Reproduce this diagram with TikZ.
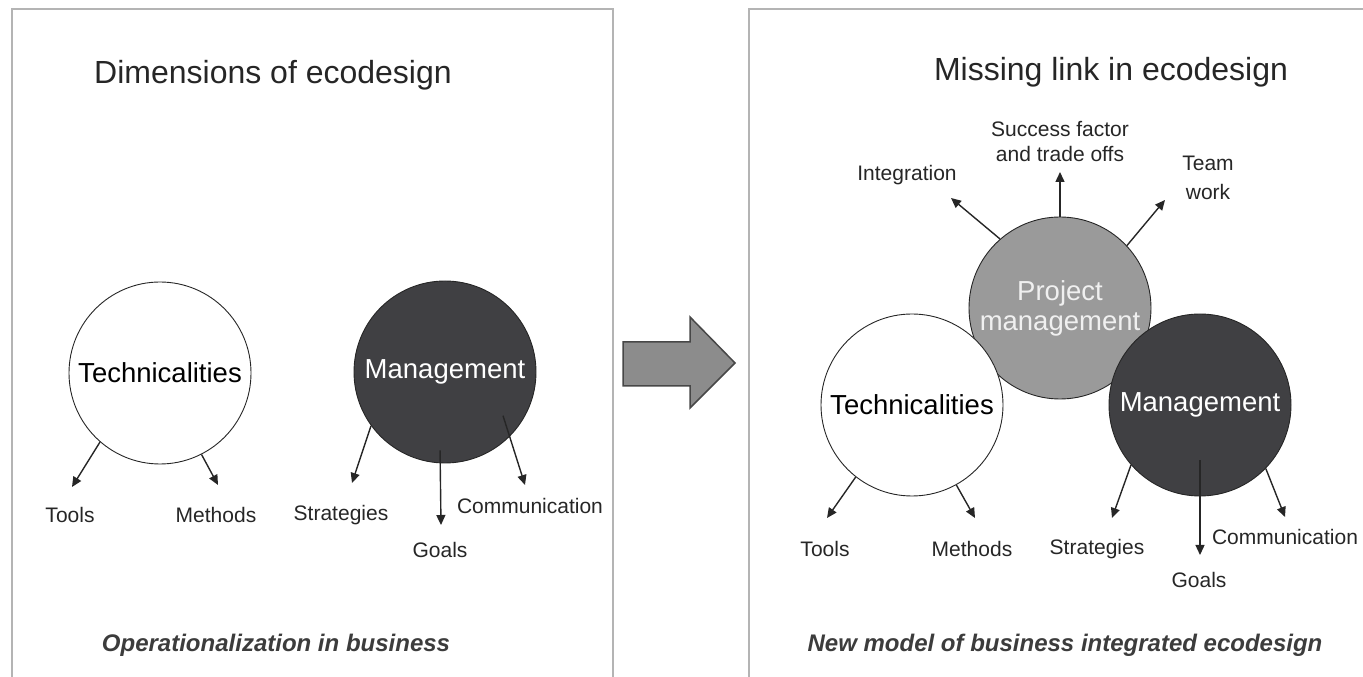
\documentclass[tikz,border=0pt]{standalone}
\usepackage{fontspec}
\setmainfont{Liberation Sans}
\usetikzlibrary{arrows.meta}
\definecolor{ink}{HTML}{262626}
\definecolor{frame}{HTML}{B4B4B4}
\definecolor{darkfill}{HTML}{404043}
\definecolor{midfill}{HTML}{9A9A9A}
\definecolor{bigarrow}{HTML}{8C8C8C}
\begin{document}
\begin{tikzpicture}[x=1pt, y=1pt,
    ring/.style = {draw=ink, circle, minimum size=182pt, inner sep=0pt, line width=0.9pt, font=\fontsize{27.5}{30}\selectfont},
    lbl/.style = {text=ink, align=center, font=\fontsize{21}{28}\selectfont},
    heading/.style = {text=ink, font=\fontsize{32}{36}\selectfont},
    caption/.style = {text=ink!90, font=\fontsize{24}{28}\selectfont\bfseries\itshape},
    arr/.style = {draw=ink, line width=1.4pt, -{Triangle[length=10pt,width=9pt]}}]
  \useasboundingbox (0,0) rectangle (1363,677);
  % panel frames
  \draw[frame, line width=1.2pt] (12,-5) |- (613,668) -- (613,-5);
  \draw[frame, line width=1.2pt] (749,-5) |- (1370,668);
  % left panel
  \node[heading] (title1) at (273,602) {Dimensions of ecodesign};
  \node[ring, fill=white] (techL) at (160,304) {Technicalities};
  \node[ring, fill=darkfill, text=white] (mgmtL) at (445,305) {Management};
  \node[lbl] (toolsL) at (70,162) {Tools};
  \node[lbl] (methodsL) at (216,162) {Methods};
  \node[lbl] (stratL) at (341,162) {Strategies};
  \node[lbl] (goalsL) at (440,127) {Goals};
  \node[lbl] (commL) at (530,171) {Communication};
  \node[caption] (cap1) at (276,32) {Operationalization in business};
  \coordinate (toolsLend) at (72,190);
  \coordinate (methodsLend) at (218,192);
  \coordinate (stratLend) at (352,194);
  \coordinate (goalsLend) at (441,152);
  \coordinate (commLend) at (525,192);
  \draw[arr] (techL.229) -- (toolsLend);
  \draw[arr] (techL.297) -- (methodsLend);
  \draw[arr] (mgmtL.216) -- (stratLend);
  \draw[arr, shorten <=-13pt] (mgmtL.267.5) -- (goalsLend);
  \draw[arr, shorten <=-22pt] (mgmtL.315) -- (commLend);
  % middle arrow
  \draw[draw=ink!85, fill=bigarrow, line width=1.5pt, line join=miter]
    (623,335) -- (690,335) -- (690,360) -- (735,314) -- (690,269) -- (690,291) -- (623,291) -- cycle;
  % right panel
  \node[heading] (title2) at (1111,605) {Missing link in ecodesign};
  \node[ring, fill=midfill, text=white!94!black, align=center] (pm) at (1060,369) {Project\\management};
  \node[ring, fill=white] (techR) at (912,272) {Technicalities};
  \node[ring, fill=darkfill, text=white] (mgmtR) at (1200,272) {Management};
  \node[lbl, font=\fontsize{21}{25}\selectfont] (success) at (1060,535) {Success factor\\and trade offs};
  \node[lbl] (integ) at (907,502) {Integration};
  \node[lbl, font=\fontsize{21}{29}\selectfont] (team) at (1208,499) {Team\\work};
  \node[lbl] (toolsR) at (825,128) {Tools};
  \node[lbl] (methodsR) at (972,128) {Methods};
  \node[lbl] (stratR) at (1097,128) {Strategies};
  \node[lbl] (goalsR) at (1199,97) {Goals};
  \node[lbl] (commR) at (1285,140) {Communication};
  \node[caption] (cap2) at (1065,32) {New model of business integrated ecodesign};
  \coordinate (integend) at (951,479);
  \coordinate (successend) at (1060,505);
  \coordinate (teamend) at (1165,477);
  \coordinate (toolsRend) at (827,159);
  \coordinate (methodsRend) at (975,159);
  \coordinate (stratRend) at (1112,159);
  \coordinate (goalsRend) at (1200,122);
  \coordinate (commRend) at (1285,160);
  \draw[arr] (pm.131) -- (integend);
  \draw[arr] (pm.90) -- (successend);
  \draw[arr] (pm.43) -- (teamend);
  \draw[arr] (techR.232) -- (toolsRend);
  \draw[arr] (techR.299) -- (methodsRend);
  \draw[arr] (mgmtR.221) -- (stratRend);
  \draw[arr, shorten <=-36pt] (mgmtR.270) -- (goalsRend);
  \draw[arr] (mgmtR.316) -- (commRend);
\end{tikzpicture}
\end{document}
